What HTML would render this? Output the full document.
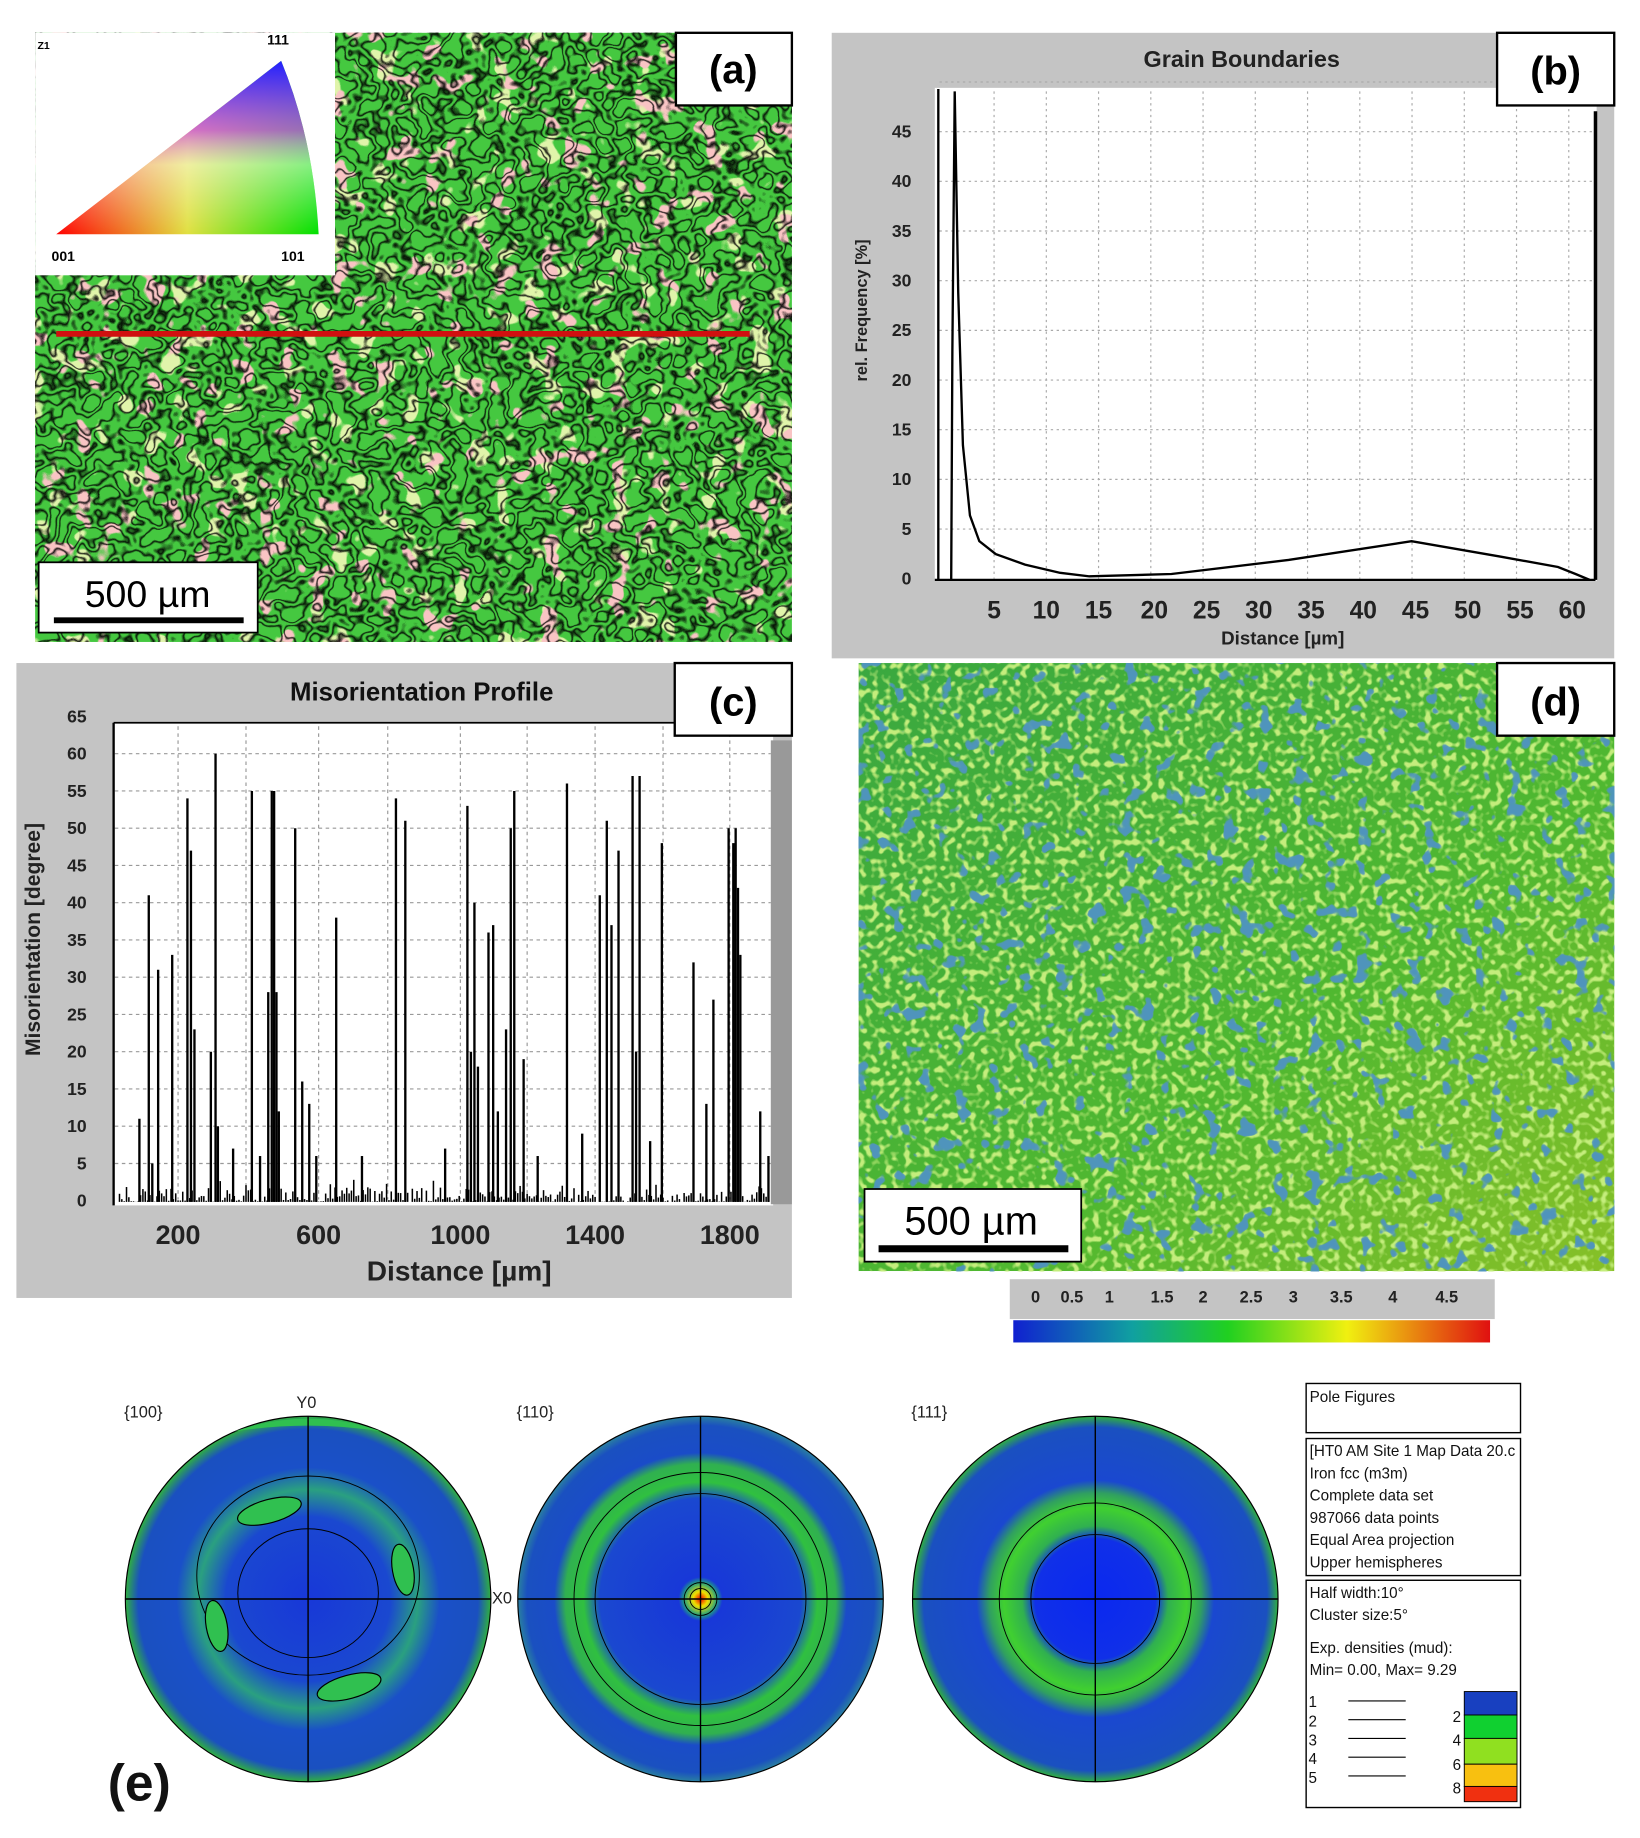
<!DOCTYPE html>
<html><head><meta charset="utf-8"><style>
html,body{margin:0;padding:0;background:#fff}
svg{display:block}
text{font-family:"Liberation Sans",sans-serif}
</style></head><body>
<svg id="s" width="1640" height="1838" viewBox="0 0 1400 1569" xmlns="http://www.w3.org/2000/svg">
<defs>
<filter id="grainA" x="0" y="0" width="100%" height="100%">
<feTurbulence type="fractalNoise" baseFrequency="0.06" numOctaves="2" seed="3"/>
<feColorMatrix type="matrix" values="0 0 0 0 0  0 0 0 0 0  0 0 0 0 0  0 1 0 0 0"/>
<feComponentTransfer><feFuncA type="table" tableValues="0 0 0 0 0 0 0 0.9 0 0 0.9 0 0 0 0 0 0 0"/></feComponentTransfer>
</filter>
<filter id="grainA2" x="0" y="0" width="100%" height="100%">
<feTurbulence type="fractalNoise" baseFrequency="0.05" numOctaves="2" seed="8"/>
<feColorMatrix type="matrix" values="0 0 0 0 0.95  0 0 0 0 0.55  0 0 0 0 0.55  0 1 0 0 0"/>
<feComponentTransfer><feFuncA type="table" tableValues="0 0 0 0 0 0 0 0 0 0 0 0 0 1 1 1 1 1 1 1"/></feComponentTransfer>
</filter>
<filter id="grainA3" x="0" y="0" width="100%" height="100%">
<feTurbulence type="fractalNoise" baseFrequency="0.05" numOctaves="2" seed="21"/>
<feColorMatrix type="matrix" values="0 0 0 0 0.75  0 0 0 0 0.9  0 0 0 0 0.4  0 1 0 0 0"/>
<feComponentTransfer><feFuncA type="table" tableValues="0 0 0 0 0 0 0 0 0 0 0 0 0 1 1 1 1 1 1 1"/></feComponentTransfer>
</filter>
<filter id="grainD" x="0" y="0" width="100%" height="100%">
<feTurbulence type="fractalNoise" baseFrequency="0.07" numOctaves="2" seed="5"/>
<feColorMatrix type="matrix" values="0 0 0 0 0.08  0 0 0 0 0.3  0 0 0 0 0.5  0 1 0 0 0"/>
<feComponentTransfer><feFuncA type="table" tableValues="0 0 0 0 0 0 0 0 0 0 0 0 0 0.9 1 1 1 1 1 1"/></feComponentTransfer>
</filter>
<filter id="grainD2" x="0" y="0" width="100%" height="100%">
<feTurbulence type="fractalNoise" baseFrequency="0.18" numOctaves="1" seed="11"/>
<feColorMatrix type="matrix" values="0 0 0 0 0.55  0 0 0 0 0.85  0 0 0 0 0.2  0 -6 0 0 3"/>
</filter>
<linearGradient id="cb" x1="0" x2="1"><stop offset="0" stop-color="#1020d0"/><stop offset="0.25" stop-color="#10a0a0"/><stop offset="0.45" stop-color="#20d020"/><stop offset="0.7" stop-color="#f0f010"/><stop offset="1" stop-color="#e01010"/></linearGradient>
<linearGradient id="dgrad" x1="0" y1="0" x2="1" y2="1"><stop offset="0" stop-color="#3aa840"/><stop offset="0.6" stop-color="#50b830"/><stop offset="1" stop-color="#88c028"/></linearGradient>
<radialGradient id="p100"><stop offset="0" stop-color="#1838d8"/><stop offset="0.45" stop-color="#1a48d0"/><stop offset="0.6" stop-color="#2aa080"/><stop offset="0.72" stop-color="#1a50c8"/><stop offset="0.93" stop-color="#1a50c0"/><stop offset="1" stop-color="#30b040"/></radialGradient>
<radialGradient id="p110"><stop offset="0" stop-color="#f00000"/><stop offset="0.04" stop-color="#f0e000"/><stop offset="0.09" stop-color="#20a080"/><stop offset="0.12" stop-color="#1838d8"/><stop offset="0.55" stop-color="#1a48d0"/><stop offset="0.64" stop-color="#30c040"/><stop offset="0.74" stop-color="#30b050"/><stop offset="0.8" stop-color="#1a4cc8"/><stop offset="0.95" stop-color="#1a50c0"/><stop offset="1" stop-color="#2a80a0"/></radialGradient>
<radialGradient id="p111"><stop offset="0" stop-color="#0a28f0"/><stop offset="0.33" stop-color="#1030e8"/><stop offset="0.4" stop-color="#30b050"/><stop offset="0.5" stop-color="#40d030"/><stop offset="0.58" stop-color="#30a060"/><stop offset="0.65" stop-color="#1a48d0"/><stop offset="0.94" stop-color="#1a50c0"/><stop offset="1" stop-color="#30b040"/></radialGradient>
<linearGradient id="tri" x1="0" x2="1"><stop offset="0" stop-color="#ff0000"/><stop offset="0.5" stop-color="#e0e040"/><stop offset="1" stop-color="#00e000"/></linearGradient>
<linearGradient id="tri2" x1="0" y1="1" x2="0" y2="0"><stop offset="0" stop-color="#fff" stop-opacity="0"/><stop offset="0.4" stop-color="#ffffff" stop-opacity="0.5"/><stop offset="0.6" stop-color="#d040ff" stop-opacity="0.7"/><stop offset="1" stop-color="#2020ff" stop-opacity="1"/></linearGradient>
</defs>
<rect width="1400" height="1569" fill="#fff"/>

<!-- (a) -->
<rect x="30" y="28" width="646" height="520" fill="#45c840"/>
<rect x="30" y="28" width="646" height="520" filter="url(#grainA3)"/>
<rect x="30" y="28" width="646" height="520" filter="url(#grainA2)"/>
<rect x="30" y="28" width="646" height="520" filter="url(#grainA)"/>
<rect x="30" y="28" width="256" height="207" fill="#fff"/>
<path d="M48 200 L240 52 Q268 120 272 200 Z" fill="url(#tri)"/>
<path d="M48 200 L240 52 Q268 120 272 200 Z" fill="url(#tri2)"/>
<text x="32" y="42" font-size="9" font-weight="bold">Z1</text>
<text x="228" y="38" font-size="12" font-weight="bold">111</text>
<text x="44" y="223" font-size="12" font-weight="bold">001</text>
<text x="240" y="223" font-size="12" font-weight="bold">101</text>
<line x1="48" y1="285" x2="640" y2="285" stroke="#d01010" stroke-width="5"/>
<rect x="577" y="28" width="99" height="62" fill="#fff" stroke="#000" stroke-width="2"/>
<text x="626" y="71" font-size="34" font-weight="bold" text-anchor="middle">(a)</text>
<rect x="33" y="480" width="187" height="60" fill="#fff" stroke="#000" stroke-width="1.5"/>
<text x="126" y="518" font-size="32" text-anchor="middle">500 µm</text>
<rect x="46" y="527" width="162" height="5" fill="#000"/>

<!-- (b) -->
<rect x="710" y="28" width="668" height="534" fill="#c4c4c4"/>
<rect x="798" y="75" width="565" height="421" fill="#fff"/>
<g id="bgrid" stroke="#aaa" stroke-dasharray="2,3" stroke-width="1"></g>
<line x1="801" y1="76" x2="801" y2="495" stroke="#000" stroke-width="2"/>
<line x1="798" y1="495" x2="1362" y2="495" stroke="#000" stroke-width="2"/>
<line x1="1362" y1="95" x2="1362" y2="495" stroke="#000" stroke-width="3"/>
<path d="M812 495 L813 300 L815 78 L818 250 L822 380 L828 440 L836 462 L850 473 L875 482 L905 489 L930 492 L1000 490 L1100 478 L1205 462 L1280 475 L1330 484 L1345 490 L1357 495" fill="none" stroke="#000" stroke-width="2"/>
<text x="1060" y="57" font-size="20" font-weight="bold" text-anchor="middle" fill="#222">Grain Boundaries</text>
<rect x="1278" y="28" width="100" height="62" fill="#fff" stroke="#000" stroke-width="2"/>
<text x="1328" y="72" font-size="34" font-weight="bold" text-anchor="middle">(b)</text>
<g id="bylab" font-size="15" font-weight="bold" fill="#222" text-anchor="end"></g>
<g id="bxlab" font-size="21" font-weight="bold" fill="#222" text-anchor="middle"></g>
<text x="1095" y="550" font-size="16" font-weight="bold" text-anchor="middle" fill="#222">Distance [µm]</text>
<text transform="translate(740,265) rotate(-90)" font-size="14" font-weight="bold" text-anchor="middle" fill="#222">rel. Frequency [%]</text>

<!-- (c) -->
<rect x="14" y="566" width="662" height="542" fill="#c4c4c4"/>
<rect x="97" y="617" width="563" height="412" fill="#fff"/>
<g id="cgrid" stroke="#999" stroke-dasharray="3,3" stroke-width="1"></g>
<rect x="658" y="632" width="18" height="396" fill="#999"/>
<line x1="97" y1="617" x2="97" y2="1029" stroke="#000" stroke-width="2"/>
<line x1="97" y1="617" x2="660" y2="617" stroke="#000" stroke-width="1.5"/>
<g id="spikes" stroke="#000" stroke-width="2"></g>
<text x="360" y="598" font-size="22" font-weight="bold" text-anchor="middle" fill="#111">Misorientation Profile</text>
<rect x="576" y="566" width="100" height="62" fill="#fff" stroke="#000" stroke-width="2"/>
<text x="626" y="611" font-size="34" font-weight="bold" text-anchor="middle">(c)</text>
<g id="cylab" font-size="15" font-weight="bold" fill="#222" text-anchor="end"></g>
<g font-size="23" font-weight="bold" fill="#222" text-anchor="middle">
<text x="152" y="1062">200</text><text x="272" y="1062">600</text><text x="393" y="1062">1000</text><text x="508" y="1062">1400</text><text x="623" y="1062">1800</text></g>
<text x="392" y="1093" font-size="24" font-weight="bold" text-anchor="middle" fill="#222">Distance [µm]</text>
<text transform="translate(34,802) rotate(-90)" font-size="18" font-weight="bold" text-anchor="middle" fill="#222">Misorientation [degree]</text>

<!-- (d) -->
<rect x="733" y="566" width="645" height="519" fill="url(#dgrad)"/>
<rect x="733" y="566" width="645" height="519" filter="url(#grainD2)"/>
<rect x="733" y="566" width="645" height="519" filter="url(#grainD)"/>
<rect x="1278" y="566" width="100" height="62" fill="#fff" stroke="#000" stroke-width="2"/>
<text x="1328" y="611" font-size="34" font-weight="bold" text-anchor="middle">(d)</text>
<rect x="738" y="1015" width="185" height="62" fill="#fff" stroke="#000" stroke-width="1.5"/>
<text x="829" y="1054" font-size="34" text-anchor="middle">500 µm</text>
<rect x="750" y="1063" width="162" height="6" fill="#000"/>
<rect x="862" y="1092" width="414" height="34" fill="#c4c4c4"/>
<g font-size="14" font-weight="bold" fill="#222" text-anchor="middle">
<text x="884" y="1112">0</text><text x="915" y="1112">0.5</text><text x="947" y="1112">1</text><text x="992" y="1112">1.5</text><text x="1027" y="1112">2</text><text x="1068" y="1112">2.5</text><text x="1104" y="1112">3</text><text x="1145" y="1112">3.5</text><text x="1189" y="1112">4</text><text x="1235" y="1112">4.5</text></g>
<rect x="865" y="1127" width="407" height="19" fill="url(#cb)"/>

<!-- (e) -->
<g font-size="14" fill="#222">
<text x="106" y="1210">{100}</text><text x="441" y="1210">{110}</text><text x="778" y="1210">{111}</text>
<text x="253" y="1202">Y0</text><text x="420" y="1369">X0</text></g>
<circle cx="263" cy="1365" r="156" fill="url(#p100)" stroke="#000"/>
<ellipse cx="263" cy="1345" rx="95" ry="85" fill="none" stroke="#000" stroke-width="0.8"/>
<ellipse cx="263" cy="1360" rx="60" ry="55" fill="none" stroke="#000" stroke-width="0.8"/>
<ellipse cx="230" cy="1290" rx="28" ry="10" fill="#30c050" stroke="#000" transform="rotate(-15 230 1290)"/>
<ellipse cx="298" cy="1440" rx="28" ry="10" fill="#30c050" stroke="#000" transform="rotate(-15 298 1440)"/>
<ellipse cx="185" cy="1388" rx="9" ry="22" fill="#30c050" stroke="#000" transform="rotate(-10 185 1388)"/>
<ellipse cx="344" cy="1340" rx="9" ry="22" fill="#30c050" stroke="#000" transform="rotate(-10 344 1340)"/>
<path d="M200 1222 Q263 1200 326 1222 Q263 1212 200 1222Z" fill="#30c050"/>
<circle cx="598" cy="1365" r="156" fill="url(#p110)" stroke="#000"/>
<circle cx="598" cy="1365" r="108" fill="none" stroke="#000" stroke-width="0.8"/>
<circle cx="598" cy="1365" r="90" fill="none" stroke="#000" stroke-width="0.8"/>
<circle cx="598" cy="1365" r="14" fill="none" stroke="#000" stroke-width="0.8"/>
<circle cx="598" cy="1365" r="9" fill="none" stroke="#000" stroke-width="0.8"/>
<circle cx="935" cy="1365" r="156" fill="url(#p111)" stroke="#000"/>
<circle cx="935" cy="1365" r="82" fill="none" stroke="#000" stroke-width="0.8"/>
<circle cx="935" cy="1365" r="55" fill="none" stroke="#000" stroke-width="0.8"/>
<g stroke="#000" stroke-width="1.2">
<line x1="263" y1="1209" x2="263" y2="1521"/><line x1="107" y1="1365" x2="419" y2="1365"/>
<line x1="598" y1="1209" x2="598" y2="1521"/><line x1="442" y1="1365" x2="754" y2="1365"/>
<line x1="935" y1="1209" x2="935" y2="1521"/><line x1="779" y1="1365" x2="1091" y2="1365"/></g>
<text x="92" y="1537" font-size="44" font-weight="bold" fill="#111">(e)</text>
<g fill="#fff" stroke="#000" stroke-width="1.2">
<rect x="1115" y="1181" width="183" height="42"/><rect x="1115" y="1228" width="183" height="117"/><rect x="1115" y="1349" width="183" height="194"/></g>
<g font-size="13" fill="#111">
<text x="1118" y="1197">Pole Figures</text>
<text x="1118" y="1243">[HT0 AM Site 1 Map Data 20.c</text>
<text x="1118" y="1262">Iron fcc (m3m)</text>
<text x="1118" y="1281">Complete data set</text>
<text x="1118" y="1300">987066 data points</text>
<text x="1118" y="1319">Equal Area projection</text>
<text x="1118" y="1338">Upper hemispheres</text>
<text x="1118" y="1364">Half width:10°</text>
<text x="1118" y="1383">Cluster size:5°</text>
<text x="1118" y="1411">Exp. densities (mud):</text>
<text x="1118" y="1430">Min= 0.00, Max= 9.29</text>
<text x="1117" y="1457">1</text><text x="1117" y="1474">2</text><text x="1117" y="1490">3</text><text x="1117" y="1506">4</text><text x="1117" y="1522">5</text>
<text x="1240" y="1470">2</text><text x="1240" y="1490">4</text><text x="1240" y="1511">6</text><text x="1240" y="1531">8</text></g>
<g stroke="#000"><line x1="1151" y1="1452" x2="1200" y2="1452"/><line x1="1151" y1="1468" x2="1200" y2="1468"/><line x1="1151" y1="1484" x2="1200" y2="1484"/><line x1="1151" y1="1500" x2="1200" y2="1500"/><line x1="1151" y1="1516" x2="1200" y2="1516"/></g>
<g stroke="#000" stroke-width="0.8">
<rect x="1250" y="1444" width="45" height="20" fill="#1840c0"/>
<rect x="1250" y="1464" width="45" height="20" fill="#10d030"/>
<rect x="1250" y="1484" width="45" height="22" fill="#90e020"/>
<rect x="1250" y="1506" width="45" height="19" fill="#f8c010"/>
<rect x="1250" y="1525" width="45" height="13" fill="#f03010"/></g>
</svg>
<script>
var NS="http://www.w3.org/2000/svg";
function el(p,t,a,txt){var e=document.createElementNS(NS,t);for(var k in a)e.setAttribute(k,a[k]);if(txt!==undefined)e.textContent=txt;document.getElementById(p).appendChild(e);}
for(var i=1;i<=12;i++){var x=804+i*44.6;el("bgrid","line",{x1:x,y1:78,x2:x,y2:494});}
for(var i=1;i<=10;i++){var y=494-i*42.4;el("bgrid","line",{x1:802,y1:y,x2:1360,y2:y});}
for(var i=0;i<=9;i++){el("bylab","text",{x:778,y:499-i*42.4},""+i*5);}
var bx=[5,10,15,20,25,30,35,40,45,50,55,60];
for(var i=0;i<bx.length;i++){el("bxlab","text",{x:804+(i+1)*44.6+(i>=3?3:0),y:528},""+bx[i]);}
for(var i=1;i<=12;i++){var y=1025-i*31.8;el("cgrid","line",{x1:98,y1:y,x2:658,y2:y});}
for(var i=0;i<=13;i++){el("cylab","text",{x:74,y:1030-i*31.8},""+i*5);}
[152,210,272,331,393,450,508,566,623].forEach(function(x){el("cgrid","line",{x1:x,y1:620,x2:x,y2:1024});});
var sp=[[119,11],[127,41],[130,5],[135,31],[147,33],[160,54],[163,47],[166,23],[180,20],[184,60],[186,10],[199,7],[215,55],[222,6],[229,28],[232,55],[234,55],[236,28],[238,12],[252,50],[258,16],[264,13],[270,6],[287,38],[309,6],[338,54],[346,51],[380,7],[399,53],[402,20],[405,40],[408,18],[417,36],[421,37],[425,12],[432,23],[436,50],[439,55],[447,19],[459,6],[484,56],[497,9],[512,41],[518,51],[522,37],[528,47],[540,57],[543,20],[546,57],[555,8],[565,48],[592,32],[603,13],[609,27],[622,50],[626,48],[628,50],[630,42],[632,33],[649,12],[656,6]];
sp.forEach(function(s){el("spikes","line",{x1:s[0],y1:1026,x2:s[0],y2:1025-s[1]*6.36});});
var r=1;function rnd(){r=(r*16807)%2147483647;return r/2147483647;}
for(var x=100;x<658;x+=2){el("spikes","line",{x1:x,y1:1026,x2:x,y2:1026-rnd()*rnd()*20,"stroke-width":1.3});}
</script>
</body></html>
